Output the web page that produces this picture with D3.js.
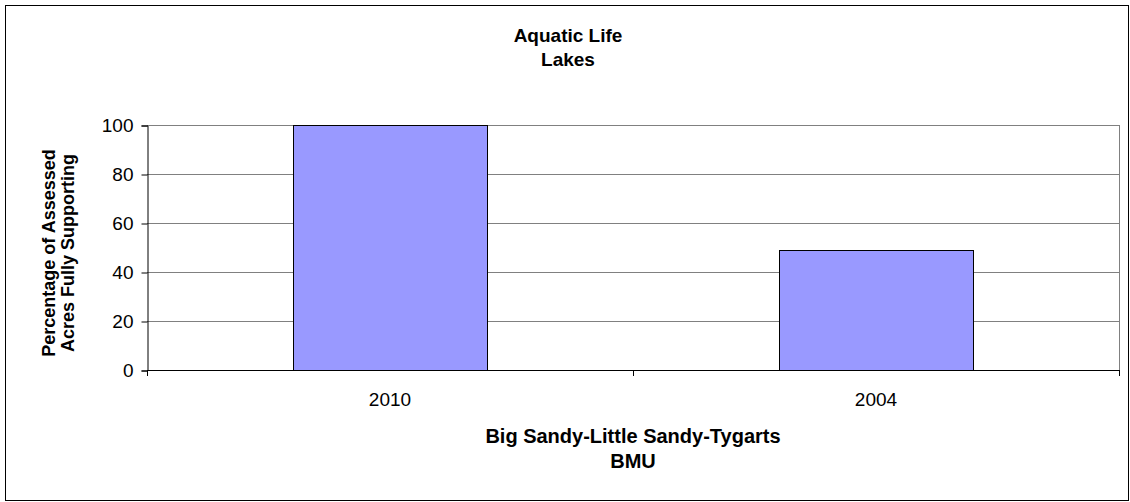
<!DOCTYPE html>
<html lang="en">
    <head>
        <meta charset="utf-8">
        <title>Aquatic Life - Lakes</title>
        <script type="text/javascript" src="https://cdn.jsdelivr.net/npm/d3@7"></script>
        <style type="text/css">
            body { margin: 0; background: #fff; }
            text { font-family: "Liberation Sans", Arial, sans-serif; fill: #000; }
        </style>
    </head>
    <body>
        <script type="text/javascript">

          //Data
          var years = ["2010", "2004"];
          var percentSupporting = [100, 49];
          var yTicks = [0, 20, 40, 60, 80, 100];

          //Width and height
          var w = 1130;
          var h = 502;
          var plot = { left: 147, right: 1119, top: 125, bottom: 370 };

          var svg = d3.select("body")
                      .append("svg")
                      .attr("width", w)
                      .attr("height", h);

          //outer chart frame
          svg.append("rect")
             .attr("x", 5.5)
             .attr("y", 5.5)
             .attr("width", 1123)
             .attr("height", 495)
             .attr("fill", "#fff")
             .attr("stroke", "#000")
             .attr("stroke-width", 1);

          //Scales
          var xScale = d3.scaleBand()
                         .domain(years)
                         .range([plot.left, plot.right])
                         .paddingInner(0.6)
                         .paddingOuter(0.3);

          var yScale = d3.scaleLinear()
                         .domain([0, 100])
                         .range([plot.bottom, plot.top]);

          //gridlines
          svg.selectAll("line.grid")
             .data(yTicks.filter(function(d) { return d > 0; }))
             .enter()
             .append("line")
             .attr("class", "grid")
             .attr("x1", plot.left)
             .attr("x2", plot.right)
             .attr("y1", function(d) { return Math.round(yScale(d)) + 0.5; })
             .attr("y2", function(d) { return Math.round(yScale(d)) + 0.5; })
             .attr("stroke", "#808080")
             .attr("stroke-width", 1);

          //right edge of plot area
          svg.append("line")
             .attr("x1", plot.right + 0.5)
             .attr("x2", plot.right + 0.5)
             .attr("y1", plot.top)
             .attr("y2", plot.bottom)
             .attr("stroke", "#808080");

          //bars
          svg.selectAll("rect.bar")
             .data(percentSupporting)
             .enter()
             .append("rect")
             .attr("class", "bar")
             .attr("x", function(d, i) { return Math.round(xScale(years[i])) + 0.5; })
             .attr("y", function(d) { return Math.round(yScale(d)) + 0.5; })
             .attr("width", Math.round(xScale.bandwidth()))
             .attr("height", function(d) { return Math.round(yScale(0)) - Math.round(yScale(d)); })
             .attr("fill", "#9999ff")
             .attr("stroke", "#000")
             .attr("stroke-width", 1);

          //y axis
          var yAxis = d3.axisLeft(yScale)
                        .tickValues(yTicks)
                        .tickSize(6)
                        .tickPadding(8);

          var gy = svg.append("g")
                      .attr("transform", "translate(" + (plot.left + 0.5) + ",0.5)")
                      .call(yAxis);
          gy.selectAll("text").attr("font-size", "19px").attr("font-family", null);
          gy.selectAll("path, line").attr("stroke", "#000");

          //x axis - ticks sit between the categories
          var xAxis = d3.axisBottom(xScale)
                        .tickSize(0)
                        .tickPadding(22);

          var gx = svg.append("g")
                      .attr("transform", "translate(0," + (plot.bottom + 0.5) + ")")
                      .call(xAxis);
          gx.select(".domain").remove();
          gx.selectAll("text").attr("font-size", "19px").attr("font-family", null);

          svg.append("line")
             .attr("x1", plot.left)
             .attr("x2", plot.right + 1)
             .attr("y1", plot.bottom + 0.5)
             .attr("y2", plot.bottom + 0.5)
             .attr("stroke", "#000");

          var sep = [plot.left, (xScale(years[0]) + xScale(years[1]) + xScale.bandwidth()) / 2, plot.right];
          svg.selectAll("line.xtick")
             .data(sep)
             .enter()
             .append("line")
             .attr("class", "xtick")
             .attr("x1", function(d) { return Math.round(d) + 0.5; })
             .attr("x2", function(d) { return Math.round(d) + 0.5; })
             .attr("y1", plot.bottom)
             .attr("y2", plot.bottom + 6)
             .attr("stroke", "#000");

          //chart title
          var title = svg.append("text")
                         .attr("x", 568)
                         .attr("y", 42)
                         .attr("text-anchor", "middle")
                         .attr("font-size", "19px")
                         .attr("font-weight", "bold");
          title.append("tspan").attr("x", 568).text("Aquatic Life");
          title.append("tspan").attr("x", 568).attr("dy", 24).text("Lakes");

          //x axis title
          var xTitle = svg.append("text")
                          .attr("x", (plot.left + plot.right) / 2)
                          .attr("y", 443)
                          .attr("text-anchor", "middle")
                          .attr("font-size", "20px")
                          .attr("font-weight", "bold");
          xTitle.append("tspan").attr("x", (plot.left + plot.right) / 2).text("Big Sandy-Little Sandy-Tygarts");
          xTitle.append("tspan").attr("x", (plot.left + plot.right) / 2).attr("dy", 25).text("BMU");

          //y axis title
          var yTitle = svg.append("text")
                          .attr("transform", "translate(55,253) rotate(-90)")
                          .attr("text-anchor", "middle")
                          .attr("font-size", "18px")
                          .attr("font-weight", "bold");
          yTitle.append("tspan").attr("x", 0).text("Percentage of Assessed");
          yTitle.append("tspan").attr("x", 0).attr("dy", 19).text("Acres Fully Supporting");

        </script>
    </body>
</html>
